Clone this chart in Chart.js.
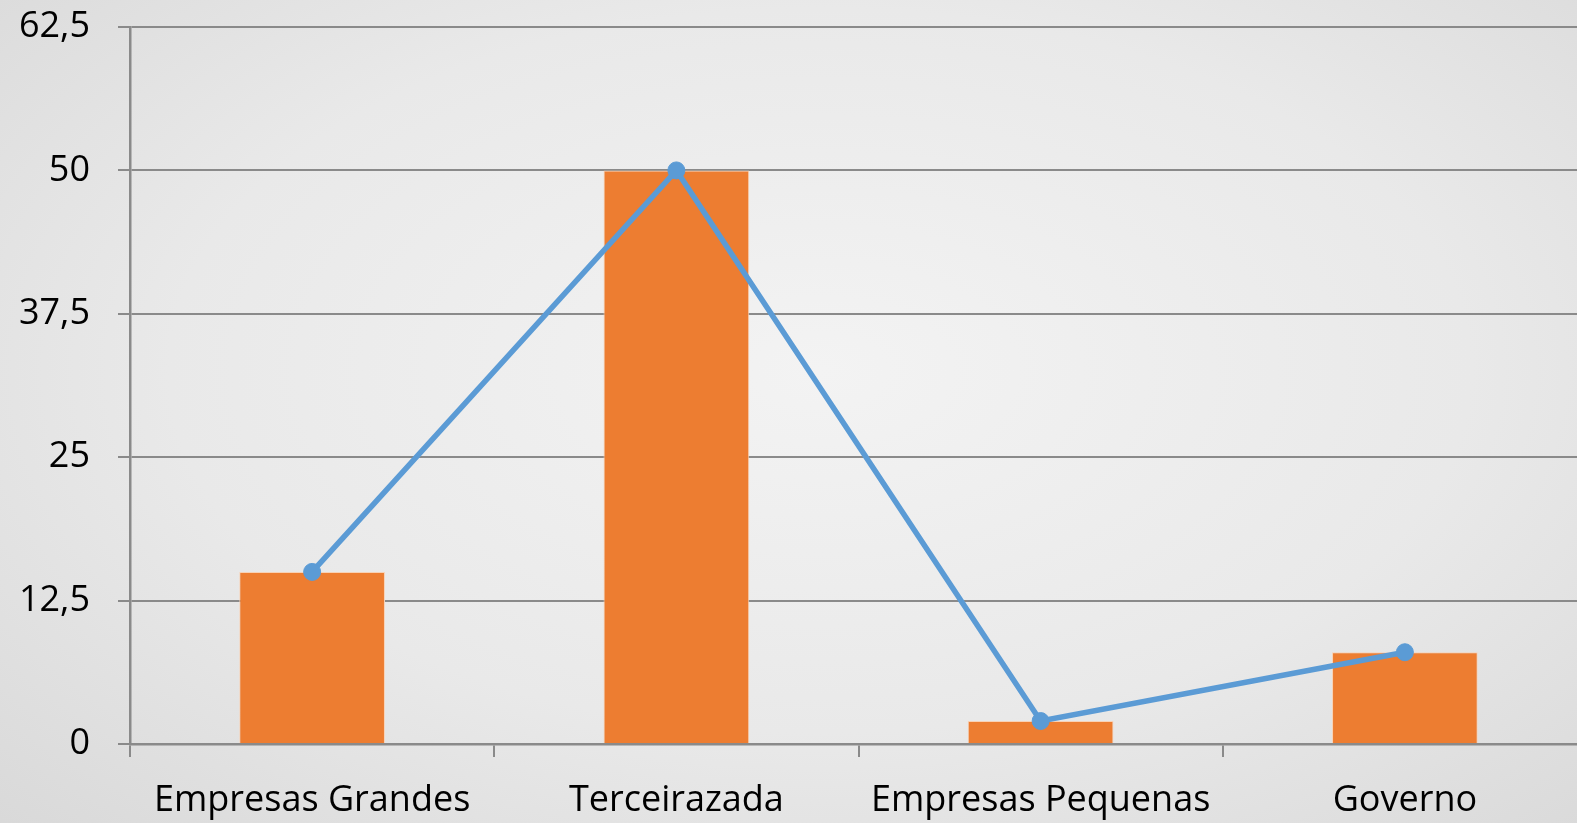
<!DOCTYPE html>
<html>
<head>
<meta charset="utf-8">
<script src="https://cdn.jsdelivr.net/npm/chart.js@4/dist/chart.umd.min.js"></script>
<style>
    html, body { margin: 0; padding: 0; overflow: hidden; }
    body {
        width: 1577px;
        height: 823px;
        background: radial-gradient(ellipse 75% 80% at 52% 45%, #f3f3f3 0%, #e9e9e9 55%, #d8d8d8 100%);
    }
    #wrap { width: 1577px; height: 823px; overflow: hidden; }
    canvas { display: block; }
</style>
</head>
<body>
<div id="wrap"><canvas id="myChart" width="1587" height="823"></canvas></div>
<script>
var categories = ['Empresas Grandes', 'Terceirazada', 'Empresas Pequenas', 'Governo'];
var barValues = [15, 50, 2, 8];
var lineValues = [15, 50, 2, 8];
var yTicks = [0, 12.5, 25, 37.5, 50, 62.5];

var gridColor = '#8a8a8a';
var labelFont = { family: 'Open Sans', size: 36 };

const ctx = document.getElementById('myChart');
const myChart = new Chart(ctx, {
    data: {
        labels: categories,
        datasets: [{
            type: 'line',
            label: 'Linha',
            data: lineValues,
            borderColor: '#5B9BD5',
            backgroundColor: '#5B9BD5',
            borderWidth: 5.5,
            pointRadius: 8.5,
            pointHoverRadius: 8.5,
            pointBorderWidth: 1,
            pointBorderColor: '#5B9BD5',
            tension: 0,
            order: 1
        }, {
            type: 'bar',
            label: 'Barras',
            data: barValues,
            backgroundColor: '#ED7D31',
            borderColor: '#f8d2b6',
            borderWidth: 1,
            categoryPercentage: 1,
            barPercentage: 0.4,
            order: 2
        }]
    },
    options: {
        responsive: false,
        animation: false,
        layout: {
            autoPadding: false,
            padding: { top: 27, right: 0, left: 0, bottom: 0 }
        },
        plugins: {
            legend: { display: false },
            tooltip: { enabled: false }
        },
        scales: {
            x: {
                offset: true,
                grid: {
                    offset: true,
                    drawOnChartArea: false,
                    drawTicks: true,
                    tickLength: 13,
                    color: gridColor,
                    lineWidth: 2
                },
                border: { color: gridColor, width: 2.5 },
                ticks: {
                    color: '#000',
                    font: labelFont,
                    padding: 22,
                    maxRotation: 0
                },
                afterFit: function (scale) {
                    scale.height = 79;
                    scale.paddingLeft = 0;
                    scale.paddingRight = 0;
                }
            },
            y: {
                min: 0,
                max: 62.5,
                afterBuildTicks: function (scale) {
                    scale.ticks = yTicks.map(function (v) { return { value: v }; });
                },
                grid: {
                    color: gridColor,
                    lineWidth: 2,
                    drawTicks: true,
                    tickLength: 12
                },
                border: { color: gridColor, width: 2.5 },
                ticks: {
                    color: '#000',
                    font: labelFont,
                    padding: 28,
                    callback: function (value) {
                        return String(value).replace('.', ',');
                    }
                },
                afterFit: function (scale) {
                    scale.width = 130;
                    scale.paddingTop = 0;
                    scale.paddingBottom = 0;
                }
            }
        }
    }
});
</script>
</body>
</html>
